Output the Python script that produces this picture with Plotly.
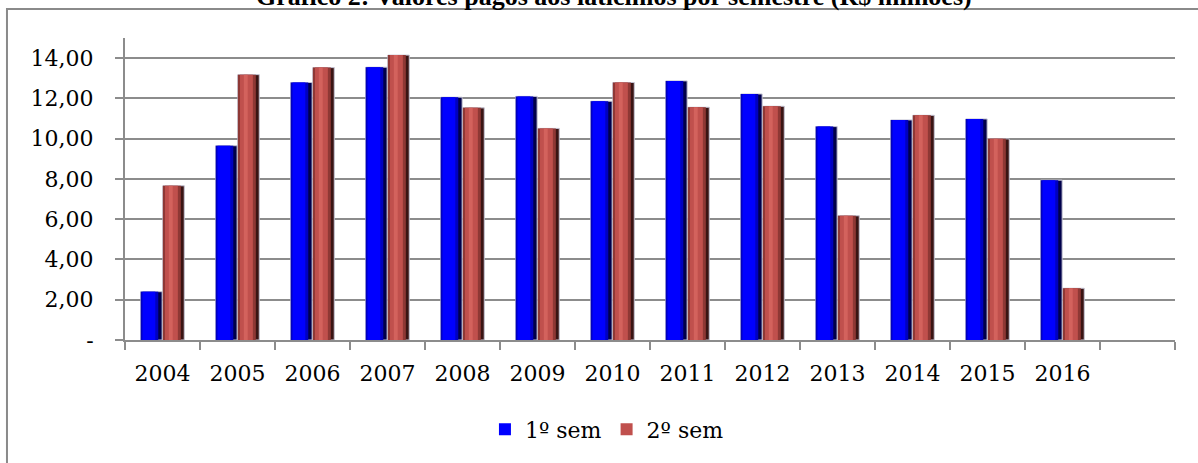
import plotly.graph_objects as go

# Valores pagos aos laticínios por semestre (R$ milhões)
anos = ["2004", "2005", "2006", "2007", "2008", "2009", "2010",
        "2011", "2012", "2013", "2014", "2015", "2016"]
sem1 = [2.40, 9.65, 12.79, 13.55, 12.06, 12.10, 11.86,
        12.87, 12.22, 10.60, 10.93, 10.98, 7.94]
sem2 = [7.66, 13.18, 13.53, 14.15, 11.53, 10.51, 12.79,
        11.56, 11.61, 6.17, 11.16, 9.99, 2.57]
categorias = anos + [" "]
y_ticks = [0, 2, 4, 6, 8, 10, 12, 14]
y_labels = ["-", "2,00", "4,00", "6,00", "8,00", "10,00", "12,00", "14,00"]

FONT = "DejaVu Serif"
TITLE_FONT = "Liberation Serif"
BAR_W = 0.285

fig = go.Figure()


def beveled_bar(values, start, layers, name):
    """Stack narrower overlaid bars to give each column a shaded, rounded look."""
    for i, (a, b, color, legend) in enumerate(layers):
        fig.add_trace(go.Bar(
            x=anos, y=values,
            offset=start + a * BAR_W, width=(b - a) * BAR_W,
            marker=dict(color=color,
                        line=dict(color="#c4c4d4", width=1) if i == 0 else dict(width=0)),
            name=name, showlegend=legend,
            hoverinfo="skip" if not legend else None,
        ))


beveled_bar(sem1, -0.29, [
    (0.00, 1.00, "#00004a", False),
    (0.00, 0.82, "#0000c0", False),
    (0.08, 0.68, "#0000ff", True),
], "1º sem")

beveled_bar(sem2, 0.005, [
    (0.00, 1.00, "#3a1413", False),
    (0.00, 0.84, "#8e3835", False),
    (0.10, 0.70, "#c0504d", True),
    (0.28, 0.46, "#d3625d", False),
], "2º sem")

grey = "#8c8c8c"

fig.update_layout(
    width=1198, height=463,
    margin=dict(l=125, r=23, t=38, b=123),
    paper_bgcolor="white", plot_bgcolor="white",
    barmode="overlay",
    font=dict(family=FONT, size=22, color="black"),
    showlegend=True,
    legend=dict(orientation="h", x=0.459, xanchor="center", y=-0.296, yanchor="middle",
                font=dict(family=FONT, size=22), itemwidth=30, tracegroupgap=0,
                bgcolor="rgba(0,0,0,0)"),
    xaxis=dict(type="category", categoryorder="array", categoryarray=categorias,
               tickvals=categorias, ticktext=categorias,
               range=[-0.5, 13.5], tickson="boundaries", ticks="outside",
               ticklen=8, tickwidth=2, tickcolor=grey,
               showline=True, linecolor=grey, linewidth=2,
               showgrid=False, ticklabelstandoff=13),
    yaxis=dict(range=[0, 15], tickvals=y_ticks, ticktext=y_labels,
               ticks="outside", ticklen=8, tickwidth=2, tickcolor=grey,
               showline=True, linecolor=grey, linewidth=2,
               showgrid=True, gridcolor=grey, gridwidth=2,
               zeroline=False, ticklabelstandoff=17),
    shapes=[dict(type="rect", xref="paper", yref="paper",
                 x0=-0.1124, x1=1.05, y0=-0.5, y1=1.096,
                 line=dict(color="#8a8a8a", width=2), layer="below")],
    annotations=[dict(text="<b>Gráfico 2: Valores pagos aos laticínios por semestre (R$ milhões)</b>",
                      xref="paper", yref="paper", x=0.466, y=1.083,
                      xanchor="center", yanchor="bottom", showarrow=False,
                      font=dict(family=TITLE_FONT, size=26, color="black"))],
)

fig.write_html("out.html")
